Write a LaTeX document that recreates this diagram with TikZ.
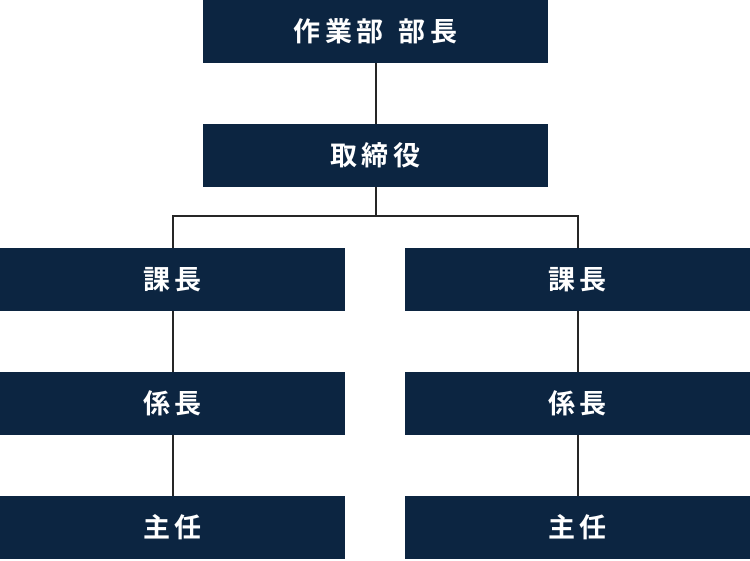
\documentclass[tikz,border=0pt]{standalone}
\usepackage{fontspec}
\newfontfamily\cjk[LetterSpace=17]{Noto Sans CJK JP Bold}
\usepackage{xcolor}
\usetikzlibrary{positioning,calc}
\definecolor{navy}{HTML}{0C2541}
\definecolor{linegray}{HTML}{262626}

\begin{document}
\begin{tikzpicture}[x=1pt,y=-1pt,
    post/.style={fill=navy, text=white, minimum width=345pt, minimum height=63pt,
        inner sep=0pt, font=\cjk\fontsize{27}{31}\selectfont},
    link/.style={draw=linegray, line width=2pt}]
    \useasboundingbox (0,0) rectangle (750,560);

    % Top
    \node[post] (bucho) at (375.5,31.5) {作業部\hspace{4pt} 部長};
    \node[post] (tori) at (375.5,155.5) {取締役};

    % Left column
    \node[post] (kachoL) at (172.5,279.5) {課長};
    \node[post] (kakariL) at (172.5,403.5) {係長};
    \node[post] (shuninL) at (172.5,527.5) {主任};

    % Right column
    \node[post] (kachoR) at (577.5,279.5) {課長};
    \node[post] (kakariR) at (577.5,403.5) {係長};
    \node[post] (shuninR) at (577.5,527.5) {主任};

    % Lines
    \coordinate (fork) at (375.5,216);
    \draw[link] (bucho.south) -- (tori.north);
    \draw[link] (tori.south) -- (fork);
    \draw[link] (kachoL.north) |- (fork) -| (kachoR.north);
    \draw[link] (kachoL.south) -- (kakariL.north);
    \draw[link] (kakariL.south) -- (shuninL.north);
    \draw[link] (kachoR.south) -- (kakariR.north);
    \draw[link] (kakariR.south) -- (shuninR.north);
\end{tikzpicture}
\end{document}
